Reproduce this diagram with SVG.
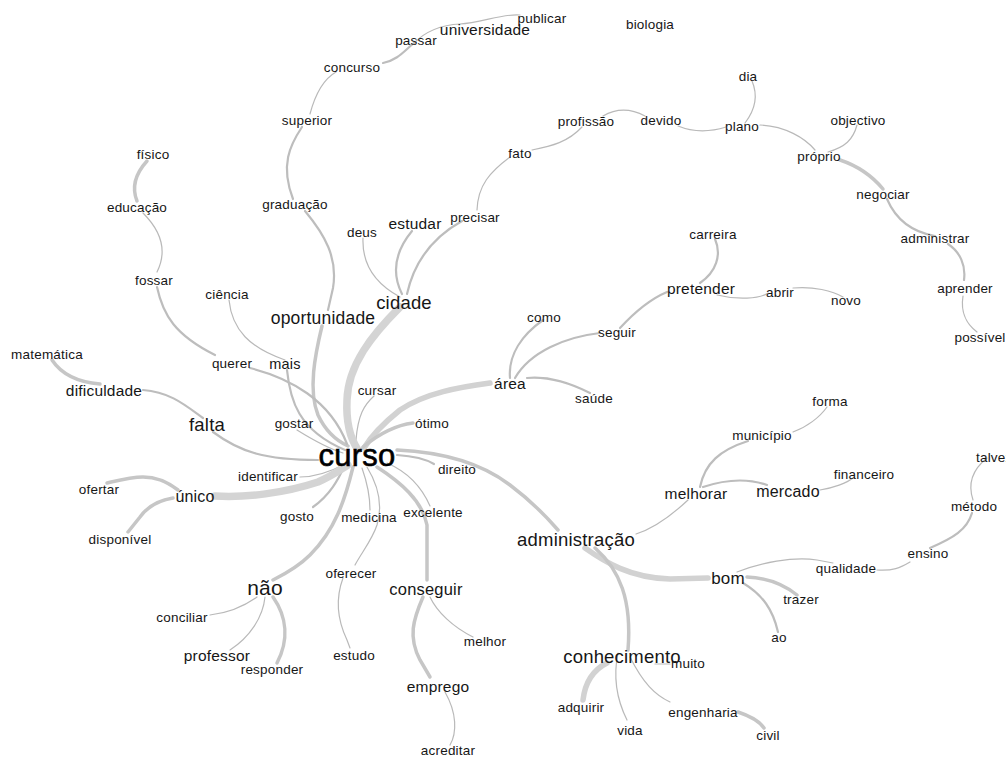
<svg xmlns="http://www.w3.org/2000/svg" width="1006" height="757" viewBox="0 0 1006 757">
<style>
text{font-family:"Liberation Sans",Arial,sans-serif;fill:#161616;text-anchor:middle;letter-spacing:0.2px}
.s{font-size:13.5px}
.m{font-size:15.5px}
.l{font-size:18.5px}
.big{font-size:31px;fill:#000;stroke:#000;stroke-width:0.6px}
path{fill:none;stroke-linecap:round}
.e1{stroke:#b9b9b9;stroke-width:1.2}
.e2{stroke:#bdbdbd;stroke-width:2.2}
.e3{stroke:#c6c6c6;stroke-width:3.5}
.e4{stroke:#d2d2d2;stroke-width:5.5}
.e5{stroke:#d4d4d4;stroke-width:7.5}
</style>
<rect width="1006" height="757" fill="#ffffff"/>
<g id="connectors">
<path class="e2" d="M383,63 C398,60 405,50 414,43"/>
<path class="e1" d="M414,43 C426,31 440,25 460,24 S505,13 520,15"/>
<path class="e1" d="M336,72 C322,80 315,95 310,114"/>
<path class="e2" d="M302,127 C290,145 280,165 293,199"/>
<path class="e2" d="M305,211 C325,235 338,258 333,288 L328,310"/>
<path class="e3" d="M322,326 C315,355 308,390 318,415 C325,430 335,440 348,446"/>
<path class="e3" d="M147,161 C137,172 131,186 137,201"/>
<path class="e1" d="M143,213 C160,230 168,250 157,272"/>
<path class="e2" d="M157,287 C163,315 175,335 215,355"/>
<path class="e2" d="M250,368 C290,378 330,400 347,444"/>
<path class="e1" d="M229,300 C232,330 250,348 285,360"/>
<path class="e2" d="M287,370 C290,400 298,430 345,450"/>
<path class="e3" d="M52,360 C60,372 75,382 100,384"/>
<path class="e2" d="M143,390 C170,392 185,405 203,418"/>
<path class="e2" d="M213,432 C240,452 265,460 318,460"/>
<path class="e1" d="M297,430 C313,440 327,448 343,453"/>
<path class="e1" d="M374,396 C364,405 358,415 356,440"/>
<path class="e5" d="M400,307 C372,335 348,365 347,400 C346,420 350,438 358,450"/>
<path class="e1" d="M363,238 C362,262 372,282 400,297"/>
<path class="e2" d="M412,231 C398,248 390,270 402,294"/>
<path class="e2" d="M462,221 C435,236 415,258 407,294"/>
<path class="e1" d="M510,157 C490,172 478,185 477,210"/>
<path class="e1" d="M582,127 C568,142 552,146 532,150"/>
<path class="e1" d="M603,116 C615,109 630,108 645,116"/>
<path class="e1" d="M678,126 C695,133 710,132 726,127"/>
<path class="e1" d="M752,81 C758,95 755,110 745,123"/>
<path class="e1" d="M760,125 C785,126 805,138 815,150"/>
<path class="e1" d="M857,125 C853,140 845,147 828,152"/>
<path class="e3" d="M840,160 C858,166 873,177 883,189"/>
<path class="e2" d="M887,199 C896,220 912,232 935,236"/>
<path class="e2" d="M948,244 C960,252 966,265 964,280"/>
<path class="e1" d="M963,296 C960,315 968,325 977,332"/>
<path class="e2" d="M715,239 C722,255 716,272 700,283"/>
<path class="e1" d="M717,295 C737,300 760,299 768,293"/>
<path class="e1" d="M793,288 C813,286 833,291 843,297"/>
<path class="e2" d="M667,292 C648,300 632,315 620,328"/>
<path class="e2" d="M600,333 C565,337 530,352 515,378"/>
<path class="e2" d="M543,320 C522,335 508,355 510,378"/>
<path class="e2" d="M527,378 C550,376 570,383 590,393"/>
<path class="e4" d="M490,383 C460,387 425,393 400,410 C385,422 372,435 364,448"/>
<path class="e3" d="M413,423 C397,425 380,433 363,447"/>
<path class="e2" d="M397,455 C412,456 424,458 434,464"/>
<path class="e3" d="M397,450 C440,452 480,462 510,485 C530,500 545,515 558,530"/>
<path class="e1" d="M636,534 C655,528 672,515 688,500"/>
<path class="e2" d="M700,487 C705,463 720,450 748,441"/>
<path class="e1" d="M793,432 C807,427 820,417 827,407"/>
<path class="e2" d="M703,487 C727,479 750,479 767,485"/>
<path class="e1" d="M820,490 C833,488 847,483 853,478"/>
<path class="e4" d="M585,548 C605,562 630,578 670,579 L708,578"/>
<path class="e3" d="M595,548 C620,570 632,600 628,650"/>
<path class="e1" d="M737,572 C760,563 793,556 817,560 L833,563"/>
<path class="e1" d="M877,570 C893,571 900,568 910,562"/>
<path class="e2" d="M930,548 C953,538 967,530 972,513"/>
<path class="e1" d="M973,500 C968,485 972,470 987,458"/>
<path class="e3" d="M747,577 C770,578 787,587 797,595"/>
<path class="e2" d="M743,583 C763,595 773,610 778,632"/>
<path class="e1" d="M655,664 L670,664"/>
<path class="e4" d="M607,663 C593,670 585,683 583,700"/>
<path class="e1" d="M618,653 C613,677 617,700 627,720"/>
<path class="e1" d="M630,657 C643,683 655,695 670,702"/>
<path class="e3" d="M738,712 C753,717 760,722 764,728"/>
<path class="e1" d="M387,463 C410,473 423,490 430,506"/>
<path class="e3" d="M377,467 C400,482 422,500 427,525 L427,580"/>
<path class="e1" d="M430,597 C437,612 453,627 473,637"/>
<path class="e3" d="M423,597 C413,620 408,637 420,660 L430,677"/>
<path class="e1" d="M445,692 C457,713 457,733 450,745"/>
<path class="e1" d="M362,468 C368,485 370,500 370,510"/>
<path class="e1" d="M367,467 C378,485 383,505 377,525 C372,540 362,552 355,565"/>
<path class="e1" d="M343,578 C336,597 336,617 347,640 L350,648"/>
<path class="e3" d="M353,467 C345,500 335,530 310,555 C298,567 285,574 273,580"/>
<path class="e2" d="M345,465 C338,480 330,495 313,507"/>
<path class="e1" d="M300,477 C315,477 330,472 345,464"/>
<path class="e5" d="M215,496 C245,498 285,493 318,482 C332,476 340,470 348,465"/>
<path class="e3" d="M107,483 C120,480 132,477 143,477 C155,477 165,480 178,490"/>
<path class="e3" d="M173,498 C160,500 148,506 140,517 L128,532"/>
<path class="e1" d="M257,597 C243,607 227,613 210,615"/>
<path class="e1" d="M265,597 C263,617 250,637 230,650"/>
<path class="e3" d="M273,597 C287,617 289,640 277,663"/>
</g>
<g id="n-publicar"><text class="s" x="542" y="23">publicar</text></g>
<g id="n-universidade"><text class="m" x="485" y="35">universidade</text></g>
<g id="n-passar"><text class="s" x="416" y="45">passar</text></g>
<g id="n-biologia"><text class="s" x="650" y="29">biologia</text></g>
<g id="n-concurso"><text class="s" x="352" y="72">concurso</text></g>
<g id="n-superior"><text class="s" x="307" y="125">superior</text></g>
<g id="n-graduacao"><text class="s" x="295" y="209">graduação</text></g>
<g id="n-fisico"><text class="s" x="153" y="159">físico</text></g>
<g id="n-educacao"><text class="s" x="137" y="212">educação</text></g>
<g id="n-fossar"><text class="s" x="154" y="285">fossar</text></g>
<g id="n-ciencia"><text class="s" x="227" y="299">ciência</text></g>
<g id="n-matematica"><text class="s" x="47" y="359">matemática</text></g>
<g id="n-dificuldade"><text class="m" x="104" y="396">dificuldade</text></g>
<g id="n-querer"><text class="s" x="232" y="368">querer</text></g>
<g id="n-mais"><text style="font-size:14.5px" x="285" y="369">mais</text></g>
<g id="n-oportunidade"><text style="font-size:17.5px" x="323" y="324">oportunidade</text></g>
<g id="n-cidade"><text class="l" x="404" y="309">cidade</text></g>
<g id="n-deus"><text class="s" x="362" y="237">deus</text></g>
<g id="n-estudar"><text class="m" x="415" y="229">estudar</text></g>
<g id="n-precisar"><text class="s" x="475" y="222">precisar</text></g>
<g id="n-fato"><text class="s" x="520" y="158">fato</text></g>
<g id="n-profissao"><text class="s" x="586" y="126">profissão</text></g>
<g id="n-devido"><text class="s" x="661" y="125">devido</text></g>
<g id="n-dia"><text class="s" x="748" y="81">dia</text></g>
<g id="n-plano"><text class="s" x="742" y="131">plano</text></g>
<g id="n-objectivo"><text class="s" x="858" y="125">objectivo</text></g>
<g id="n-proprio"><text class="s" x="819" y="161">próprio</text></g>
<g id="n-negociar"><text class="s" x="883" y="199">negociar</text></g>
<g id="n-administrar"><text class="s" x="935" y="243">administrar</text></g>
<g id="n-aprender"><text class="s" x="965" y="293">aprender</text></g>
<g id="n-possivel"><text class="s" x="980" y="342">possível</text></g>
<g id="n-carreira"><text class="s" x="713" y="239">carreira</text></g>
<g id="n-pretender"><text class="m" x="701" y="294">pretender</text></g>
<g id="n-abrir"><text class="s" x="780" y="297">abrir</text></g>
<g id="n-novo"><text class="s" x="846" y="305">novo</text></g>
<g id="n-como"><text class="s" x="544" y="322">como</text></g>
<g id="n-seguir"><text class="s" x="617" y="337">seguir</text></g>
<g id="n-area"><text class="m" x="510" y="389">área</text></g>
<g id="n-saude"><text class="s" x="594" y="403">saúde</text></g>
<g id="n-cursar"><text class="s" x="377" y="395">cursar</text></g>
<g id="n-otimo"><text class="s" x="432" y="428">ótimo</text></g>
<g id="n-gostar"><text class="s" x="294" y="428">gostar</text></g>
<g id="n-falta"><text class="l" x="207" y="431">falta</text></g>
<g id="n-curso"><text class="big" x="357" y="466">curso</text></g>
<g id="n-identificar"><text class="s" x="268" y="481">identificar</text></g>
<g id="n-direito"><text class="s" x="457" y="474">direito</text></g>
<g id="n-ofertar"><text class="s" x="99" y="494">ofertar</text></g>
<g id="n-unico"><text style="font-size:16px" x="195" y="502">único</text></g>
<g id="n-disponivel"><text class="s" x="120" y="544">disponível</text></g>
<g id="n-gosto"><text class="s" x="297" y="521">gosto</text></g>
<g id="n-medicina"><text class="s" x="369" y="522">medicina</text></g>
<g id="n-excelente"><text class="s" x="433" y="517">excelente</text></g>
<g id="n-administracao"><text class="l" x="576" y="546">administração</text></g>
<g id="n-oferecer"><text class="s" x="351" y="578">oferecer</text></g>
<g id="n-nao"><text style="font-size:21px" x="265" y="595">não</text></g>
<g id="n-conseguir"><text style="font-size:16.5px" x="426" y="595">conseguir</text></g>
<g id="n-conciliar"><text class="s" x="182" y="622">conciliar</text></g>
<g id="n-professor"><text class="m" x="217" y="661">professor</text></g>
<g id="n-responder"><text class="s" x="272" y="674">responder</text></g>
<g id="n-estudo"><text class="s" x="354" y="660">estudo</text></g>
<g id="n-melhor"><text class="s" x="485" y="646">melhor</text></g>
<g id="n-conhecimento"><text class="l" x="622" y="663">conhecimento</text></g>
<g id="n-muito"><text class="s" x="688" y="668">muito</text></g>
<g id="n-emprego"><text class="m" x="438" y="692">emprego</text></g>
<g id="n-adquirir"><text class="s" x="581" y="712">adquirir</text></g>
<g id="n-vida"><text class="s" x="630" y="735">vida</text></g>
<g id="n-engenharia"><text class="s" x="703" y="717">engenharia</text></g>
<g id="n-civil"><text class="s" x="768" y="740">civil</text></g>
<g id="n-acreditar"><text class="s" x="448" y="755">acreditar</text></g>
<g id="n-forma"><text class="s" x="830" y="406">forma</text></g>
<g id="n-municipio"><text class="s" x="762" y="440">município</text></g>
<g id="n-financeiro"><text class="s" x="864" y="479">financeiro</text></g>
<g id="n-melhorar"><text class="m" x="696" y="499">melhorar</text></g>
<g id="n-mercado"><text style="font-size:16px" x="788" y="497">mercado</text></g>
<g id="n-talvez"><text class="s" x="976" y="462" style="text-anchor:start">talvez</text></g>
<g id="n-metodo"><text class="s" x="974" y="511">método</text></g>
<g id="n-ensino"><text class="s" x="928" y="558">ensino</text></g>
<g id="n-qualidade"><text class="s" x="846" y="573">qualidade</text></g>
<g id="n-bom"><text style="font-size:17px" x="728" y="584">bom</text></g>
<g id="n-trazer"><text class="s" x="801" y="604">trazer</text></g>
<g id="n-ao"><text class="s" x="779" y="642">ao</text></g>
</svg>
